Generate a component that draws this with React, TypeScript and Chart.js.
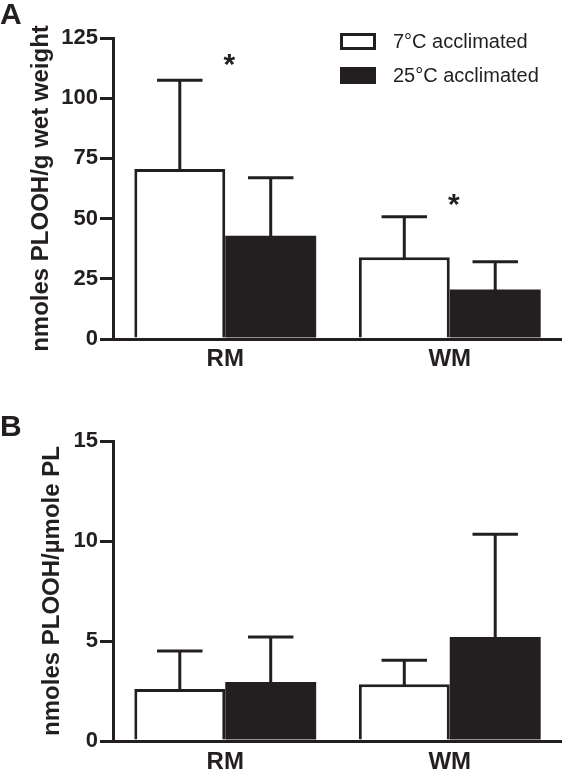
import React, { useEffect, useRef } from 'react';
import { Chart, registerables } from 'chart.js';

Chart.register(...registerables);

// ---------- data ----------
const categories = ['RM', 'WM'];
const seriesLabels = ['7°C acclimated', '25°C acclimated'];

// Panel A: nmoles PLOOH/g wet weight (mean, SD)
const panelAMean7 = [70.6, 33.9];
const panelASd7 = [36.9, 16.9];
const panelAMean25 = [42.9, 20.6];
const panelASd25 = [24.1, 11.5];
const panelASignif = [116, 57.7];
const panelAYTicks = [0, 25, 50, 75, 100, 125];

// Panel B: nmoles PLOOH/µmole PL (mean, SD)
const panelBMean7 = [2.6, 2.84];
const panelBSd7 = [1.9, 1.2];
const panelBMean25 = [2.95, 5.2];
const panelBSd25 = [2.25, 5.14];
const panelBYTicks = [0, 5, 10, 15];

const INK = '#231f20';
const FONT = "'Liberation Sans', Arial, Helvetica, sans-serif";

const errorBarPlugin = {
  id: 'errorBars',
  afterDatasetsDraw(chart: any) {
    const { ctx } = chart;
    const yScale = chart.scales.y;
    ctx.save();
    ctx.strokeStyle = INK;
    ctx.lineWidth = 3;
    ctx.lineCap = 'butt';
    chart.data.datasets.forEach((ds: any, di: number) => {
      const meta = chart.getDatasetMeta(di);
      meta.data.forEach((bar: any, i: number) => {
        const v = ds.data[i];
        const e = ds.errors[i];
        const yTop = yScale.getPixelForValue(v + e);
        const half = bar.width * 0.25;
        ctx.beginPath();
        ctx.moveTo(bar.x, bar.y + 1);
        ctx.lineTo(bar.x, yTop);
        ctx.moveTo(bar.x - half, yTop);
        ctx.lineTo(bar.x + half, yTop);
        ctx.stroke();
      });
    });
    ctx.restore();
  },
};

const signifPlugin = {
  id: 'signif',
  afterDraw(chart: any, _args: any, opts: any) {
    const marks: number[] | undefined = opts && opts.values;
    if (!marks) return;
    const { ctx } = chart;
    const xs = chart.scales.x;
    const ys = chart.scales.y;
    ctx.save();
    ctx.fillStyle = INK;
    ctx.font = `bold 30px ${FONT}`;
    ctx.textAlign = 'center';
    ctx.textBaseline = 'alphabetic';
    const m = ctx.measureText('*');
    const off = (m.actualBoundingBoxAscent - m.actualBoundingBoxDescent) / 2;
    marks.forEach((v, i) => {
      if (v == null) return;
      const x = xs.getPixelForValue(i) + 4;
      const y = ys.getPixelForValue(v);
      ctx.fillText('*', x, y + off);
    });
    ctx.restore();
  },
};

const legendPlugin = {
  id: 'boxLegend',
  afterDraw(chart: any, _args: any, opts: any) {
    if (!opts || !opts.show) return;
    const { ctx } = chart;
    ctx.save();
    ctx.font = `20px ${FONT}`;
    ctx.textBaseline = 'middle';
    ctx.textAlign = 'left';
    chart.data.datasets.forEach((ds: any, i: number) => {
      const bx = 340;
      const by = 33 + i * 34;
      const bw = 36;
      const bh = 17;
      ctx.fillStyle = ds.borderColor;
      ctx.fillRect(bx, by, bw, bh);
      if (ds.borderWidth > 0) {
        ctx.fillStyle = ds.backgroundColor;
        ctx.fillRect(bx + 3, by + 3, bw - 6, bh - 6);
      }
      ctx.fillStyle = INK;
      ctx.fillText(ds.label, 393, by + bh / 2 + 0.5);
    });
    ctx.restore();
  },
};

function buildConfig(p: {
  letter: string;
  mean7: number[]; sd7: number[]; mean25: number[]; sd25: number[];
  ticks: number[]; yTitle: string; titlePad: { top: number; bottom: number };
  yTitlePad: number; xHeight: number; xPad: number; signif?: number[]; legend: boolean;
}) {
  return {
    type: 'bar',
    data: {
      labels: categories,
      datasets: [
        {
          label: seriesLabels[0], data: p.mean7, errors: p.sd7,
          backgroundColor: '#ffffff', borderColor: INK, borderWidth: 3, borderSkipped: 'bottom',
        },
        {
          label: seriesLabels[1], data: p.mean25, errors: p.sd25,
          backgroundColor: INK, borderColor: INK, borderWidth: 0,
        },
      ],
    },
    options: {
      responsive: false,
      animation: false,
      devicePixelRatio: 1,
      layout: { padding: { left: 0, right: 0, top: 0, bottom: 0 } },
      datasets: { bar: { categoryPercentage: 0.81, barPercentage: 1 } },
      plugins: {
        legend: { display: false },
        tooltip: { enabled: false },
        title: {
          display: true, text: p.letter, align: 'start', color: INK,
          font: { family: FONT, size: 30, weight: 'bold', lineHeight: 0.8 },
          padding: p.titlePad,
        },
        signif: { values: p.signif },
        boxLegend: { show: p.legend },
      },
      scales: {
        x: {
          z: 1,
          grid: { display: true, drawOnChartArea: false, drawTicks: false, lineWidth: 3, color: INK },
          border: { display: true, width: 3, color: INK },
          ticks: { color: INK, padding: p.xPad, font: { family: FONT, size: 24, weight: 'bold' } },
          afterFit: (s: any) => { s.height = p.xHeight; },
        },
        y: {
          min: p.ticks[0],
          max: p.ticks[p.ticks.length - 1],
          afterBuildTicks: (s: any) => { s.ticks = p.ticks.map((v) => ({ value: v })); },
          grid: { display: true, drawOnChartArea: false, drawTicks: true, tickLength: 13, lineWidth: 3, color: INK },
          border: { display: true, width: 3, color: INK },
          ticks: { color: INK, padding: 2, font: { family: FONT, size: 22, weight: 'bold' } },
          title: {
            display: true, text: p.yTitle, color: INK,
            font: { family: FONT, size: 24, weight: 'bold', lineHeight: 1.2 },
            padding: { top: p.yTitlePad, bottom: 0 },
          },
          afterFit: (s: any) => { s.width = 113; },
        },
      },
    },
    plugins: [errorBarPlugin, signifPlugin, legendPlugin],
  };
}

export default function App() {
  const refA = useRef<HTMLCanvasElement>(null);
  const refB = useRef<HTMLCanvasElement>(null);

  useEffect(() => {
    const a = new Chart(refA.current as HTMLCanvasElement, buildConfig({
      letter: 'A', mean7: panelAMean7, sd7: panelASd7, mean25: panelAMean25, sd25: panelASd25,
      ticks: panelAYTicks, yTitle: 'nmoles PLOOH/g wet weight',
      titlePad: { top: 4, bottom: 10 }, yTitlePad: 27, xHeight: 41, xPad: 6,
      signif: panelASignif, legend: true,
    }) as any);
    const b = new Chart(refB.current as HTMLCanvasElement, buildConfig({
      letter: 'B', mean7: panelBMean7, sd7: panelBSd7, mean25: panelBMean25, sd25: panelBSd25,
      ticks: panelBYTicks, yTitle: 'nmoles PLOOH/\u00b5mole PL',
      titlePad: { top: 36, bottom: 1 }, yTitlePad: 38, xHeight: 39, xPad: 7,
      legend: false,
    }) as any);
    return () => { a.destroy(); b.destroy(); };
  }, []);

  return (
    <div style={{ position: 'absolute', left: 0, top: 0, width: 562, height: 780, background: '#ffffff' }}>
      <canvas ref={refA} width={562} height={380}
        style={{ position: 'absolute', left: 0, top: 0, width: 562, height: 380 }} />
      <canvas ref={refB} width={562} height={400}
        style={{ position: 'absolute', left: 0, top: 380, width: 562, height: 400 }} />
    </div>
  );
}
